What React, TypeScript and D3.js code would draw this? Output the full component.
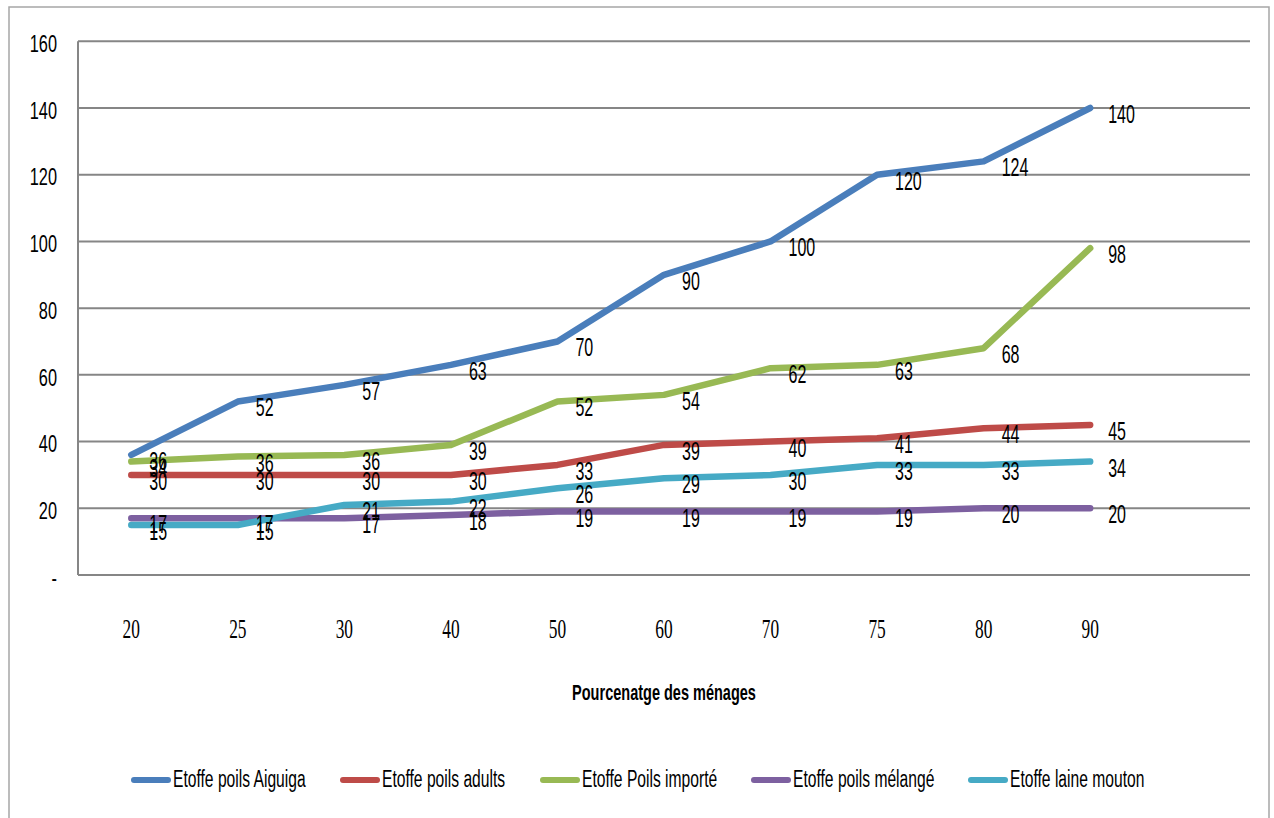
import React from "react";
import * as d3 from "d3";

const categories = ["20", "25", "30", "40", "50", "60", "70", "75", "80", "90"];
const seriesNames = [
  "Etoffe poils Aiguiga",
  "Etoffe poils adults",
  "Etoffe Poils importé",
  "Etoffe poils mélangé",
  "Etoffe laine mouton",
];
const aiguiga = [36, 52, 57, 63, 70, 90, 100, 120, 124, 140];
const adults = [30, 30, 30, 30, 33, 39, 40, 41, 44, 45];
const importe = [34, 35.5, 36, 39, 52, 54, 62, 63, 68, 98];
const melange = [17, 17, 17, 18, 19, 19, 19, 19, 20, 20];
const mouton = [15, 15, 21, 22, 26, 29, 30, 33, 33, 34];
const yTicks = [0, 20, 40, 60, 80, 100, 120, 140, 160];
const colors = ["#4A7EBB", "#BE4B48", "#98B954", "#7D60A0", "#46AAC5"];
const xTitle = "Pourcenatge des ménages";

const W = 1274;
const H = 818;
const left = 78;
const right = 1250;
const top = 41.3;
const bottom = 575;
const SX = 0.64;
const SANS = "'Liberation Sans', Arial, sans-serif";
const SERIF = "'Liberation Serif', 'Times New Roman', serif";

function T(props: {
  x: number;
  y: number;
  text: string;
  anchor?: string;
  size?: number;
  family?: string;
  weight?: string;
  sx?: number;
}) {
  const { x, y, text, anchor = "start", size = 23, family = SANS, weight = "normal", sx = SX } = props;
  return (
    <text
      transform={`translate(${x},${y}) scale(${sx},1)`}
      textAnchor={anchor}
      dominantBaseline="central"
      fontSize={size}
      fontFamily={family}
      fontWeight={weight}
      fill="#000"
    >
      {text}
    </text>
  );
}

export default function App() {
  const series = [aiguiga, adults, importe, melange, mouton];
  const plotW = right - left;
  const xb = d3
    .scaleBand<string>()
    .domain(categories)
    .range([left, left + (plotW * categories.length) / (categories.length + 1)])
    .padding(0);
  const xc = (c: string) => (xb(c) as number) + xb.bandwidth() / 2;
  const y = d3.scaleLinear().domain([0, 160]).range([bottom, top]);
  const line = d3
    .line<number>()
    .x((_, i) => xc(categories[i]))
    .y((d) => y(d));
  const fmt = d3.format(".0f");

  const legendLines = [134, 343, 543, 754, 971];

  return (
    <svg
      width={W}
      height={H}
      style={{ position: "absolute", left: 0, top: 0, background: "#fff" }}
    >
      <rect x={9} y={7} width={1260} height={830} fill="#fff" stroke="#A6A6A6" strokeWidth={1.5} />
      {yTicks.map((t) => (
        <line key={"g" + t} x1={left} x2={right} y1={y(t)} y2={y(t)} stroke="#868686" strokeWidth={2} />
      ))}
      <line x1={left} x2={left} y1={top} y2={bottom} stroke="#868686" strokeWidth={2} />
      {yTicks.map((t) => (
        <T key={"yt" + t} x={57} y={y(t) + 2} text={t === 0 ? "-" : String(t)} anchor="end" size={24} sx={0.68} />
      ))}
      {categories.map((c) => (
        <T key={"xt" + c} x={xc(c)} y={628} text={c} anchor="middle" size={28} family={SERIF} sx={0.62} />
      ))}
      <T x={664} y={692} text={xTitle} anchor="middle" size={22} weight="bold" sx={0.66} />
      {series.map((s, k) => (
        <path
          key={"l" + k}
          d={line(s) || ""}
          fill="none"
          stroke={colors[k]}
          strokeWidth={6.5}
          strokeLinecap="round"
          strokeLinejoin="round"
        />
      ))}
      {series.map((s, k) =>
        s.map((v, i) => (
          <T key={"dl" + k + "-" + i} x={xc(categories[i]) + 18} y={y(v) + 6} text={fmt(v)} size={25} />
        ))
      )}
      {seriesNames.map((n, k) => (
        <g key={"lg" + k}>
          <line
            x1={legendLines[k]}
            x2={legendLines[k] + 34}
            y1={780}
            y2={780}
            stroke={colors[k]}
            strokeWidth={6}
            strokeLinecap="round"
          />
          <T x={legendLines[k] + 39} y={779} text={n} size={23} sx={0.68} />
        </g>
      ))}
    </svg>
  );
}
